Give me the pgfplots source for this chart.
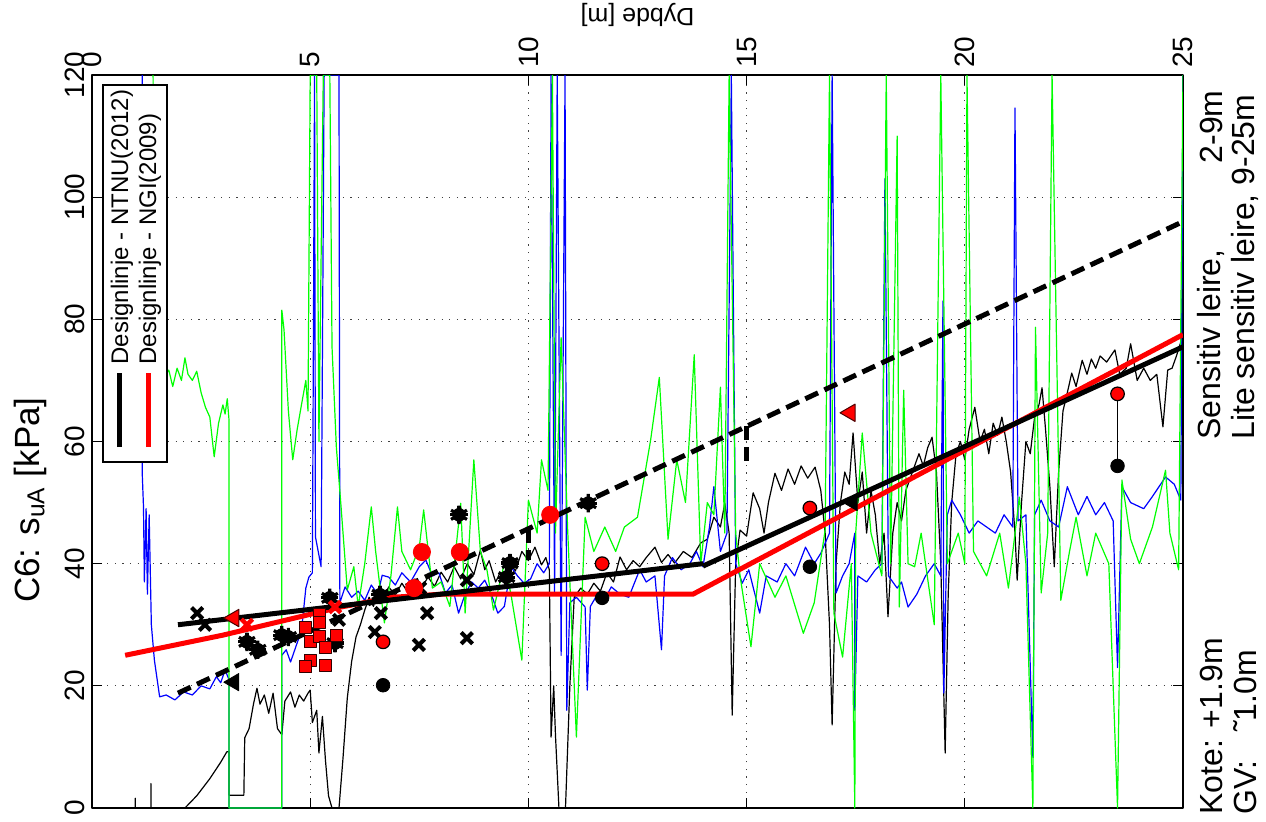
\documentclass[border=0pt]{standalone}
\usepackage{pgfplots}
\pgfplotsset{compat=1.18}
\usepackage{fontspec}
\setmainfont{Liberation Sans}
\begin{document}
\begin{tikzpicture}
\useasboundingbox (-46pt,-6.5pt) rectangle (587pt,404pt);
\begin{axis}[at={(0,0)}, anchor=south west, scale only axis,
  width=545.5pt, height=366.5pt,
  xmin=0, xmax=25, ymin=0, ymax=120,
  xtick={0,5,...,25}, ytick={0,20,...,120},
  xticklabel pos=right, yticklabel pos=left,
  tick align=inside, major tick length=5pt,
  grid=major,
  major grid style={black!75, dash pattern=on 0.6pt off 3.2pt, line width=0.5pt},
  axis line style={line width=0.8pt},
  every tick/.style={black, line width=0.6pt},
  /pgf/number format/assume math mode=true,
  ticklabel style={font=\fontsize{14}{14}\selectfont},
  xticklabel style={rotate=90, anchor=west},
  yticklabel style={rotate=90, anchor=south},
  xlabel={Dybde [m]},
  xlabel style={at={(axis description cs:0.5,1.082)}, anchor=center, rotate=180, font=\fontsize{12.5}{12.5}\selectfont},
  ylabel={C6: s\textsubscript{uA} [kPa]},
  ylabel style={at={(axis description cs:-0.0568,0.42)}, anchor=center, font=\fontsize{17.5}{17.5}\selectfont},
  line join=round,
]
% CPTU black
\addplot[black, line width=0.6pt] coordinates {
(0.99,0)(0.99,1.6)(0.99,0)(1.35,0)(1.35,4)(1.35,0)(2.13,0)(2.4,2)(2.7,4.8)(2.95,7.5)(3.09,9.2)(3.14,9.2)(3.14,2.1)(3.48,2.1)(3.5,11.5)(3.6,13)(3.7,17)(3.78,19.6)(3.85,17)(3.95,18.5)(4.05,15.5)(4.15,18.8)(4.25,13)(4.35,12)(4.42,17.5)(4.55,19)(4.65,16.5)(4.75,18.5)(4.85,17.5)(4.95,18.8)(5.0,19.3)(5.05,14)(5.15,16)(5.2,9)(5.28,15)(5.35,7.8)(5.42,2)(5.5,0)(5.66,0)(5.75,8)(5.85,18)(5.95,24)(6.05,28)(6.15,30)(6.25,32.4)(6.35,34.5)(6.45,33)(6.55,35.7)(6.65,34)(6.8,36.2)(6.95,34.8)(7.1,36.8)(7.25,35.2)(7.4,37.5)(7.55,36)(7.7,37.8)(7.85,36.3)(8.0,38.6)(8.15,37)(8.3,39.5)(8.45,37.5)(8.6,40)(8.75,38.2)(8.9,42.2)(9.0,39)(9.1,40.5)(9.25,37)(9.35,38.5)(9.5,36)(9.6,40)(9.7,38.8)(9.85,42)(10.0,40.5)(10.15,42.7)(10.3,39.8)(10.4,41)(10.48,39)(10.52,11.6)(10.58,20)(10.62,12)(10.7,0)(10.85,0)(10.95,20)(11.05,34.5)(11.2,36)(11.35,35)(11.5,36.8)(11.65,35.5)(11.8,38.5)(11.95,37)(12.1,41.1)(12.25,39)(12.4,40.5)(12.55,39.5)(12.7,41)(12.9,42.7)(13.05,40.2)(13.2,41.5)(13.35,40.1)(13.55,42)(13.75,41)(13.95,43.4)(14.1,44)(14.25,47.6)(14.4,46)(14.5,49.9)(14.6,45)(14.67,15.2)(14.75,40)(14.85,45.5)(15.0,44.5)(15.15,51.6)(15.3,49)(15.4,45)(15.5,50)(15.65,54.8)(15.8,52)(15.95,55.5)(16.1,53)(16.25,56)(16.4,54)(16.57,55.8)(16.7,52)(16.8,45)(16.9,30)(16.96,13.6)(17.05,40)(17.15,50)(17.25,55)(17.35,53)(17.44,61.4)(17.55,50)(17.65,55)(17.75,45)(17.85,52)(17.95,48)(18.05,40)(18.15,45)(18.24,31.3)(18.35,45)(18.45,50)(18.55,47)(18.65,52)(18.8,55)(18.95,58)(19.05,56)(19.15,59)(19.25,60.7)(19.35,55)(19.45,40)(19.55,9)(19.62,35)(19.7,50)(19.8,58)(19.9,60)(20.0,57)(20.1,62)(20.23,65.6)(20.35,60)(20.45,62)(20.55,58)(20.65,63)(20.75,61)(20.85,64)(20.95,60)(21.05,55)(21.15,45)(21.2,37.3)(21.3,50)(21.4,60)(21.5,58)(21.6,64)(21.7,66)(21.77,68.8)(21.85,62)(21.95,52.6)(22.05,39.5)(22.15,55)(22.25,65)(22.35,68)(22.45,71.2)(22.55,69)(22.69,73.3)(22.8,71)(22.9,73.5)(23.0,72)(23.1,74)(23.25,73)(23.44,75)(23.55,71)(23.7,72)(23.8,76)(23.95,70)(24.1,72)(24.25,70)(24.4,71)(24.54,62.4)(24.65,71.7)(24.75,72)(24.85,74)(24.98,77)(25.0,32)
};
% blue
\addplot[blue, line width=0.6pt] coordinates {
(1.15,120)(1.15,55)(1.18,49.3)(1.2,37)(1.24,49)(1.27,35)(1.31,48)(1.36,30)(1.43,24.2)(1.55,18.2)(1.7,18.5)(1.9,17.7)(2.1,19)(2.3,18.5)(2.5,20)(2.7,19.5)(2.85,21.5)(2.95,20.5)(3.05,22.6)(3.14,21)(3.14,0)(4.35,0)(4.35,25)(4.45,25.9)(4.55,23.9)(4.7,27)(4.8,29)(4.9,36)(4.97,37.8)(5.05,38.5)(5.1,120)(5.12,44.4)(5.25,39.5)(5.32,120)(5.66,120)(5.68,33.6)(5.8,36.2)(5.95,34.5)(6.1,35.5)(6.25,34)(6.4,36.5)(6.55,35)(6.65,38.1)(6.8,37.8)(6.95,36.5)(7.1,38.5)(7.3,37)(7.5,39.5)(7.65,40.6)(7.8,38)(7.95,38.5)(8.1,35.2)(8.25,36.5)(8.4,31.9)(8.55,35)(8.7,37)(8.85,36)(9.0,37.3)(9.15,35)(9.3,31.9)(9.45,33)(9.6,39.5)(9.75,38)(9.9,36.8)(10.05,37.5)(10.2,40)(10.35,38.5)(10.48,40)(10.52,120)(10.6,35)(10.66,120)(10.75,25)(10.84,120)(10.88,16)(10.95,33.6)(11.1,34.5)(11.3,32.9)(11.35,19.3)(11.42,33)(11.55,34.6)(11.7,33.5)(11.9,36.2)(12.1,35)(12.3,34.5)(12.55,39)(12.7,37)(12.9,38)(13.05,25.9)(13.12,38)(13.3,41)(13.5,39)(13.7,40)(13.85,42)(14.0,39.5)(14.15,46)(14.25,52.6)(14.4,42)(14.55,45)(14.65,120)(14.75,40)(14.9,36.8)(15.05,39)(15.3,31.9)(15.45,38)(15.7,37)(15.9,40)(16.1,38)(16.35,42.7)(16.55,40)(16.7,41.7)(16.9,45)(16.96,120)(17.05,35.2)(17.2,38)(17.35,40)(17.48,45)(17.48,16)(17.55,38)(17.75,37)(17.95,39)(18.1,40)(18.17,103)(18.25,38)(18.45,36)(18.55,37)(18.7,32.9)(18.9,35)(19.1,38)(19.3,40)(19.45,38)(19.5,83)(19.52,18.8)(19.6,48)(19.7,50.4)(19.9,48)(20.1,45)(20.3,47)(20.5,46)(20.7,45)(20.9,48)(21.1,46)(21.15,114.6)(21.22,47)(21.4,48)(21.56,8.3)(21.6,48)(21.75,50.4)(21.95,47)(22.15,46)(22.35,52.6)(22.6,48)(22.8,51)(23.0,48)(23.2,50)(23.4,47)(23.5,23)(23.6,52.6)(23.8,50)(24.1,49)(24.3,51)(24.6,54.2)(24.8,53)(24.95,50.4)(25.0,120)
};
% green
\addplot[green, line width=0.6pt] coordinates {
(1.4,120)(1.42,73)(1.5,71)(1.6,70)(1.76,71.7)(1.85,69)(1.95,72)(2.05,70)(2.13,73.7)(2.2,71)(2.3,70)(2.4,71.5)(2.5,68)(2.6,65.6)(2.7,64)(2.8,57.5)(2.9,63)(3.0,66)(3.05,64.5)(3.1,67)(3.14,63.5)(3.14,0)(4.35,0)(4.35,81.5)(4.4,78.3)(4.5,65)(4.6,57)(4.7,61.9)(4.8,66)(4.9,70)(4.95,65)(5.0,120)(5.15,120)(5.2,60)(5.3,120)(5.45,120)(5.5,75.5)(5.6,59)(5.7,50)(5.85,35.7)(6.0,39.5)(6.1,33)(6.25,40)(6.4,49.3)(6.5,42)(6.7,30.3)(6.85,38)(7.0,49.3)(7.1,42)(7.3,39)(7.5,42.7)(7.6,48.8)(7.8,36)(8.0,37)(8.2,33)(8.45,49.9)(8.55,31.9)(8.75,57)(8.9,42)(9.05,39)(9.2,32.4)(9.45,40.1)(9.6,35)(9.85,24.2)(10.0,50.4)(10.2,45)(10.3,57)(10.45,52)(10.55,120)(10.62,45)(10.75,77)(10.9,45.5)(11.1,11.6)(11.3,47.6)(11.5,42)(11.75,46)(12.0,42)(12.2,46)(12.5,47.6)(12.8,60.2)(13.0,70.5)(13.2,44)(13.4,57)(13.6,50)(13.8,74.2)(13.95,40)(14.1,50)(14.25,48)(14.4,68.9)(14.5,45)(14.6,120)(14.75,45)(14.85,38)(15.1,26.4)(15.3,40)(15.65,34.5)(15.9,38)(16.3,28.6)(16.55,33.6)(16.8,45.5)(16.9,120)(17.0,31.9)(17.2,24.7)(17.4,40)(17.48,0)(17.5,45)(17.65,61.4)(17.85,45)(18.1,38)(18.2,120)(18.3,40)(18.45,110)(18.5,32.9)(18.6,68.4)(18.7,40)(18.85,39.5)(19.0,45)(19.3,30)(19.45,120)(19.6,40)(19.85,45)(20.0,40)(20.05,120)(20.2,42)(20.5,38)(20.8,45)(21.0,36)(21.25,50.9)(21.4,40)(21.56,0)(21.62,78.7)(21.75,35.2)(21.9,45)(22.0,120)(22.2,34)(22.4,42)(22.55,47.6)(22.8,38)(23.0,45)(23.3,40)(23.5,0)(23.6,53.7)(23.8,44)(24.0,40)(24.3,46)(24.6,55.3)(24.7,45)(24.9,39)(25.0,120)
};
% design lines
\addplot[black, line width=2.5pt, dash pattern=on 7pt off 3.5pt] coordinates {(1.97,18.8)(25,96)};
\addplot[black, line width=2.5pt, dash pattern=on 7pt off 3.5pt] coordinates {(10,45.7)(10,40.6)};
\addplot[black, line width=2.5pt, dash pattern=on 7pt off 3.5pt] coordinates {(15,62.5)(15,56)};
\addplot[red, line width=2.5pt] coordinates {(0.76,25)(3,28.3)(5.7,32.9)(6.9,34.5)(8,35)(13.77,35)(25,77.5)};
\addplot[black, line width=2.5pt] coordinates {(1.97,30)(14,40)};
\addplot[black, line width=2.5pt] coordinates {(14,39.6)(25,75.5)};
% connector
\addplot[black, line width=0.8pt] coordinates {(23.5,67.8)(23.5,56.0)};
% markers
\addplot[only marks, black, mark=x, mark size=4pt, line width=2pt] coordinates {
(2.41,31.9)(2.59,30.0)(5.66,30.8)(6.48,28.8)(6.62,31.9)(7.49,26.7)(7.68,31.9)(7.52,36.0)(8.59,37.3)(8.59,27.8)};
\addplot[only marks, black, mark=*, mark size=3.2pt] coordinates {
(3.55,27.2)(3.8,25.9)(4.35,28.3)(4.5,28.0)(5.45,34.4)(5.57,27.0)(6.6,34.9)(8.41,48.0)(9.5,37.8)(9.58,40.1)(11.37,49.9)};
\addplot[only marks, black, mark=asterisk, mark size=4.6pt, line width=1.6pt] coordinates {
(3.55,27.2)(3.8,25.9)(4.35,28.3)(4.5,28.0)(5.45,34.4)(5.57,27.0)(6.6,34.9)(8.41,48.0)(9.5,37.8)(9.58,40.1)(11.37,49.9)};
\addplot[only marks, black, mark=+, mark size=4.3pt, line width=1.6pt] coordinates {
(3.55,27.2)(3.8,25.9)(4.35,28.3)(4.5,28.0)(5.45,34.4)(5.57,27.0)(6.6,34.9)(8.41,48.0)(9.5,37.8)(9.58,40.1)(11.37,49.9)};
\addplot[only marks, mark=*, mark size=4.3pt, mark options={fill=red, draw=red}] coordinates {
(7.56,41.9)(8.43,41.9)(7.38,36.0)(10.5,48.0)};
\addplot[only marks, mark=*, mark size=3.4pt, mark options={fill=black, draw=black}] coordinates {
(6.67,20.1)(11.69,34.4)(16.45,39.5)(23.5,56.0)};
\addplot[only marks, mark=*, mark size=3.4pt, mark options={fill=red, draw=black, line width=0.6pt}] coordinates {
(6.67,27.2)(11.69,40.0)(16.45,49.1)(23.5,67.8)};
\addplot[only marks, mark=square*, mark size=3pt, mark options={fill=red, draw=black!80!red, line width=0.5pt}] coordinates {
(4.9,29.5)(5.22,31.6)(5.22,30.4)(5.0,27.2)(5.22,28.0)(5.61,28.3)(5.34,26.2)(5.0,24.2)(4.9,23.1)(5.34,23.4)};
\addplot[only marks, red, mark=x, mark size=4pt, line width=2.2pt] coordinates {(3.55,30.0)(5.57,32.9)};
\addplot[only marks, mark=triangle*, mark size=5pt, mark options={rotate=90, fill=red, draw=black!70!red, line width=0.5pt}] coordinates {(3.25,31.1)(17.37,64.7)};
\addplot[only marks, mark=triangle*, mark size=5pt, mark options={rotate=90, fill=black, draw=black}] coordinates {(3.25,20.6)(17.42,50.1)};
\end{axis}
% legend
\draw[line width=0.8pt, fill=white] (5.5pt,173pt) rectangle (37.5pt,361.5pt);
\draw[black, line width=2.5pt] (14pt,180.5pt) -- (14pt,217.5pt);
\draw[red, line width=2.5pt] (28.5pt,180.5pt) -- (28.5pt,217.5pt);
\node[rotate=90, anchor=west, inner sep=0pt, font=\fontsize{12}{12}\selectfont] at (15pt,221.5pt) {Designlinje - NTNU(2012)};
\node[rotate=90, anchor=west, inner sep=0pt, font=\fontsize{12}{12}\selectfont] at (29pt,221.5pt) {Designlinje - NGI(2009)};
% side texts
\node[rotate=90, anchor=west, inner sep=0pt, font=\fontsize{16}{16}\selectfont] at (559.5pt,-3.5pt) {Kote: +1.9m};
\node[rotate=90, anchor=west, inner sep=0pt, font=\fontsize{16}{16}\selectfont] at (576.5pt,-3.5pt) {GV:\hspace{0.9em}˜1.0m};
\node[rotate=90, anchor=west, inner sep=0pt, font=\fontsize{16}{16}\selectfont] at (559.5pt,184pt) {Sensitiv leire,};
\node[rotate=90, anchor=east, inner sep=0pt, font=\fontsize{16}{16}\selectfont] at (559.5pt,359pt) {2-9m};
\node[rotate=90, anchor=west, inner sep=0pt, font=\fontsize{16}{16}\selectfont] at (576.5pt,184pt) {Lite sensitiv leire, 9-25m};
\end{tikzpicture}
\end{document}
